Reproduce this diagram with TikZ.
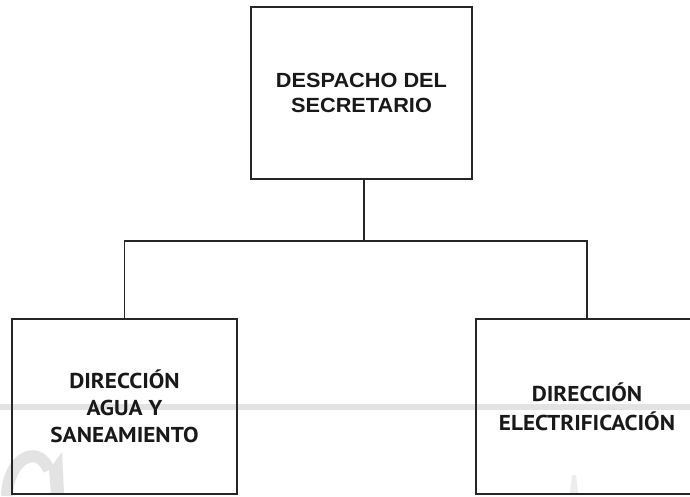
\documentclass[tikz,border=0pt]{standalone}
\usepackage{fontspec}
\newfontfamily\topfont{Liberation Sans}[FakeStretch=1.06]
\newfontfamily\boxfont{PT Sans}[FakeStretch=1.08]
\begin{document}
\begin{tikzpicture}[x=1pt,y=-1pt,
  orgbox/.style={draw=black!85, line width=1.1pt, rectangle, inner sep=0pt, align=center, text=black!90},
  link/.style={draw=black!85, line width=1.1pt},
  wm/.style={fill=black!11, draw=none}]
\useasboundingbox (0,0) rectangle (690,496);
\clip (0,0) rectangle (690,496);
\fill[white] (0,0) rectangle (690,496);
% watermark
\fill[wm] (0,404) rectangle (690,410);
\draw[black!11, line width=12pt] (7,496) .. controls (8,458) and (38,443) .. (49,470);
\fill[wm] (49,470) -- (62,452) -- (64,493) -- (51,493) -- cycle;
\fill[black!7] (572,475) -- (576,475) -- (578,493) -- (570,493) -- cycle;
% boxes
\node[orgbox, minimum width=221pt, minimum height=172pt,
  font=\topfont\bfseries\fontsize{20.5}{25}\selectfont] (top) at (361.5,93) {DESPACHO DEL\\SECRETARIO};
\node[orgbox, minimum width=225pt, minimum height=175pt,
  font=\boxfont\bfseries\fontsize{21.5}{27}\selectfont] (left) at (124.5,406.5) {DIRECCIÓN\\AGUA Y\\SANEAMIENTO};
\node[orgbox, minimum width=222pt, minimum height=175pt,
  font=\boxfont\bfseries\fontsize{21.5}{29}\selectfont] (right) at (587,406.5) {DIRECCIÓN\\ELECTRIFICACIÓN};
% connectors
\coordinate (j) at (364,241);
\draw[link] (top.south -| j) -- (j);
\draw[link] (left.north) |- (j) -| (right.north);
\end{tikzpicture}
\end{document}
